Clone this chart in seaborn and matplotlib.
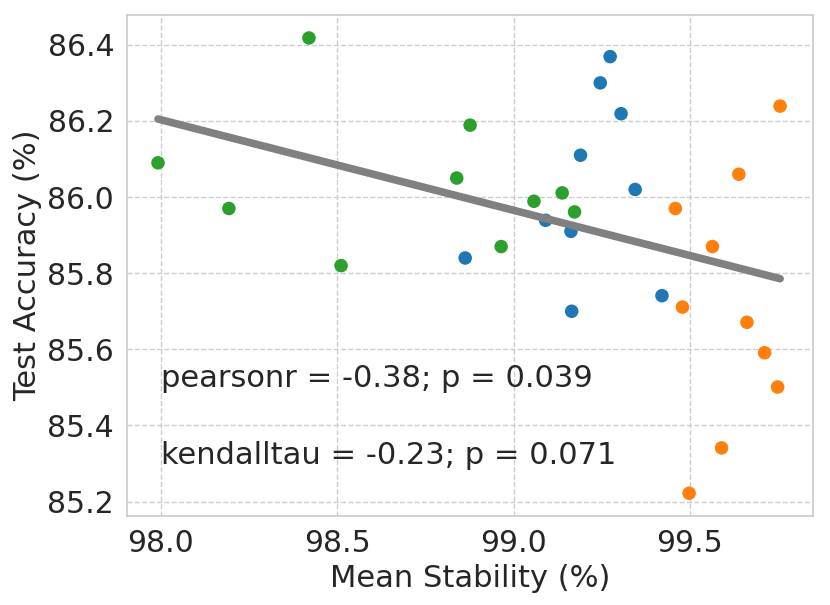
import matplotlib
matplotlib.use("Agg")
import matplotlib.pyplot as plt
import seaborn as sns
import pandas as pd
import numpy as np

# Data
blue_x = [99.274, 99.246, 99.305, 99.190, 99.345, 99.091, 99.163, 98.863, 99.421, 99.165]
blue_y = [86.369, 86.300, 86.219, 86.110, 86.020, 85.939, 85.910, 85.840, 85.741, 85.700]
orange_x = [99.756, 99.639, 99.459, 99.564, 99.479, 99.662, 99.712, 99.749, 99.590, 99.498]
orange_y = [86.239, 86.060, 85.970, 85.870, 85.711, 85.671, 85.591, 85.501, 85.341, 85.222]
green_x = [98.420, 97.992, 98.193, 98.511, 98.839, 98.877, 99.058, 99.138, 99.173, 98.965]
green_y = [86.418, 86.090, 85.970, 85.820, 86.050, 86.189, 85.989, 86.011, 85.961, 85.870]
groups = ["A", "B", "C"]
annotations = ["pearsonr = -0.38; p = 0.039", "kendalltau = -0.23; p = 0.071"]
annot_y = [85.5, 85.3]
annot_x = 98.0

df = pd.DataFrame({
    "Mean Stability (%)": blue_x + orange_x + green_x,
    "Test Accuracy (%)": blue_y + orange_y + green_y,
    "group": [groups[0]] * len(blue_x) + [groups[1]] * len(orange_x) + [groups[2]] * len(green_x),
})

sns.set_theme(style="whitegrid", rc={"grid.linestyle": "--"})
plt.rcParams["font.family"] = ["DejaVu Sans"]

fig = plt.figure(figsize=(8.3, 6.05), dpi=100)
ax = fig.add_axes([0.1534, 0.147, 0.8256, 0.828])

sns.scatterplot(data=df, x="Mean Stability (%)", y="Test Accuracy (%)", hue="group",
                palette="tab10", s=95, linewidth=0, legend=False, ax=ax, zorder=2)
sns.regplot(data=df, x="Mean Stability (%)", y="Test Accuracy (%)", scatter=False, ci=None,
            color="gray", line_kws={"linewidth": 5.5, "solid_capstyle": "round", "zorder": 3}, ax=ax)

for t, yy in zip(annotations, annot_y):
    ax.text(annot_x, yy, t, fontsize=22, color="#262626")

ax.set_xticks([98.0, 98.5, 99.0, 99.5])
ax.set_yticks([85.2, 85.4, 85.6, 85.8, 86.0, 86.2, 86.4])
ax.tick_params(labelsize=21.5)
ax.set_xlabel("Mean Stability (%)", fontsize=22)
ax.set_ylabel("Test Accuracy (%)", fontsize=22)
ax.set_xlim(97.905, 99.848)
ax.set_ylim(85.162, 86.478)

fig.savefig("out.png", dpi=100)
